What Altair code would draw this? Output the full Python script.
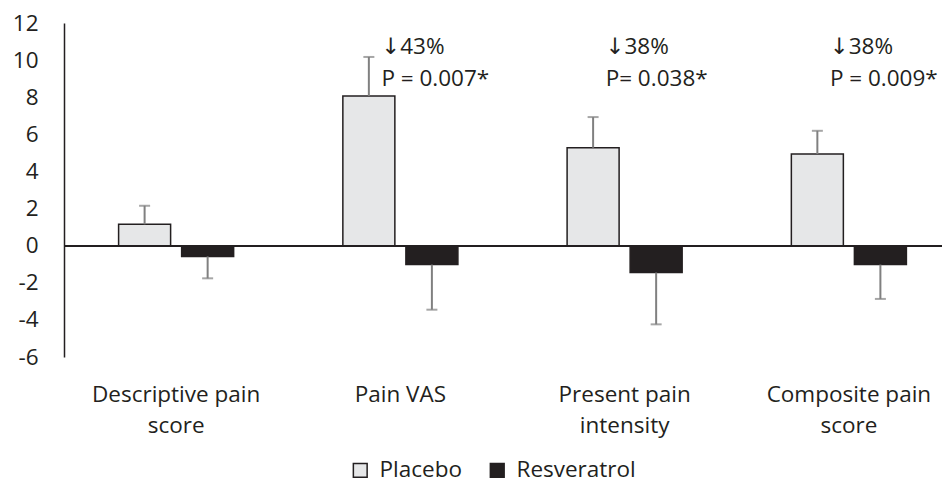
import altair as alt
import pandas as pd

categories = ["Descriptive pain score", "Pain VAS", "Present pain intensity", "Composite pain score"]
label_lines = [["Descriptive pain", "score"], ["Pain VAS"], ["Present pain", "intensity"], ["Composite pain", "score"]]
groups = ["Placebo", "Resveratrol"]

placebo_mean = [1.15, 8.07, 5.28, 4.94]
placebo_err = [1.0, 2.1, 1.65, 1.25]
resv_mean = [-0.58, -1.02, -1.45, -1.02]
resv_err = [1.18, 2.43, 2.79, 1.85]

pct_labels = ["↓43%", "↓38%", "↓38%"]
p_labels = ["P = 0.007*", "P= 0.038*", "P = 0.009*"]
ann_categories = ["Pain VAS", "Present pain intensity", "Composite pain score"]
y_ticks = [-6, -4, -2, 0, 2, 4, 6, 8, 10, 12]

rows = []
for i, c in enumerate(categories):
    rows.append({"category": c, "group": "Placebo", "value": placebo_mean[i],
                 "err_end": placebo_mean[i] + placebo_err[i]})
    rows.append({"category": c, "group": "Resveratrol", "value": resv_mean[i],
                 "err_end": resv_mean[i] - resv_err[i]})
df = pd.DataFrame(rows)
ann = pd.DataFrame({"category": ann_categories, "pct": pct_labels, "p": p_labels})

FONT = "'Open Sans', 'DejaVu Sans', sans-serif"
FS = 22.5
TXT = "#231f20"

label_expr = " : ".join(
    [f"datum.label == '{c}' ? [{', '.join(repr(l) for l in lines)}]" for c, lines in zip(categories, label_lines)]
) + " : datum.label"

x_axis = alt.Axis(domain=False, ticks=False, labelAngle=0, labelFontSize=FS, labelFont=FONT,
                  labelColor=TXT, labelPadding=26, labelLineHeight=31, labelExpr=label_expr)
x_enc = alt.X(
    "category:N", sort=categories, title=None,
    scale=alt.Scale(range=[0, 897], paddingInner=0.487, paddingOuter=0.2435),
    axis=x_axis,
)
xoff = alt.XOffset("group:N", sort=groups, scale=alt.Scale(paddingInner=0.175, paddingOuter=0))
y_scale = alt.Scale(domain=[-6, 12], nice=False, zero=False)
y_axis = alt.Axis(values=y_ticks, ticks=False, grid=False, domainColor=TXT,
                  domainWidth=1.5, labelFontSize=FS, labelFont=FONT, labelColor=TXT,
                  labelOverlap=False, labelPadding=26, labelExpr="toString(datum.value)")

base = alt.Chart(df).encode(x=x_enc, xOffset=xoff)

bars = base.mark_bar(stroke=TXT, strokeWidth=1.5).encode(
    y=alt.Y("value:Q", scale=y_scale, title=None, axis=y_axis),
    color=alt.Color("group:N", sort=groups,
                    scale=alt.Scale(domain=groups, range=["#e6e7e8", TXT]),
                    legend=alt.Legend(title=None, orient="none", direction="horizontal",
                                      legendX=285, legendY=436, symbolType="square", symbolSize=190,
                                      symbolStrokeColor=TXT, symbolStrokeWidth=1.5,
                                      labelFontSize=FS, labelFont=FONT, labelColor=TXT,
                                      labelOffset=8, columnPadding=24)),
)

err = base.mark_rule(color="#808080", strokeWidth=2).encode(
    y=alt.Y("value:Q", scale=y_scale, title=None, axis=y_axis), y2="err_end:Q")
caps = base.mark_tick(color="#808080", thickness=2, size=11).encode(
    y=alt.Y("err_end:Q", scale=y_scale, title=None, axis=y_axis))

zero = alt.Chart(df).mark_rule(color=TXT, strokeWidth=1.5).encode(
    y=alt.YDatum(0, scale=y_scale, title=None, axis=y_axis))

ann_x = alt.X("category:N", sort=categories, title=None, axis=x_axis)
t1 = alt.Chart(ann).mark_text(align="left", baseline="middle", dx=-19, fontSize=FS, font=FONT, color=TXT).encode(
    x=ann_x, y=alt.YDatum(10.7, scale=y_scale, title=None, axis=y_axis), text="pct:N")
t2 = alt.Chart(ann).mark_text(align="left", baseline="middle", dx=-19, fontSize=FS, font=FONT, color=TXT).encode(
    x=ann_x, y=alt.YDatum(9.0, scale=y_scale, title=None, axis=y_axis), text="p:N")

chart = alt.layer(bars, zero, err, caps, t1, t2).properties(
    width=878, height=334,
    background="white",
    autosize=alt.AutoSizeParams(type="none"),
    padding={"left": 56, "top": 15, "right": 0, "bottom": 129},
).configure_view(stroke=None).configure_axisY(labelOverlap=False)

chart.save("out.html", embed_options={"renderer": "svg", "actions": False})
